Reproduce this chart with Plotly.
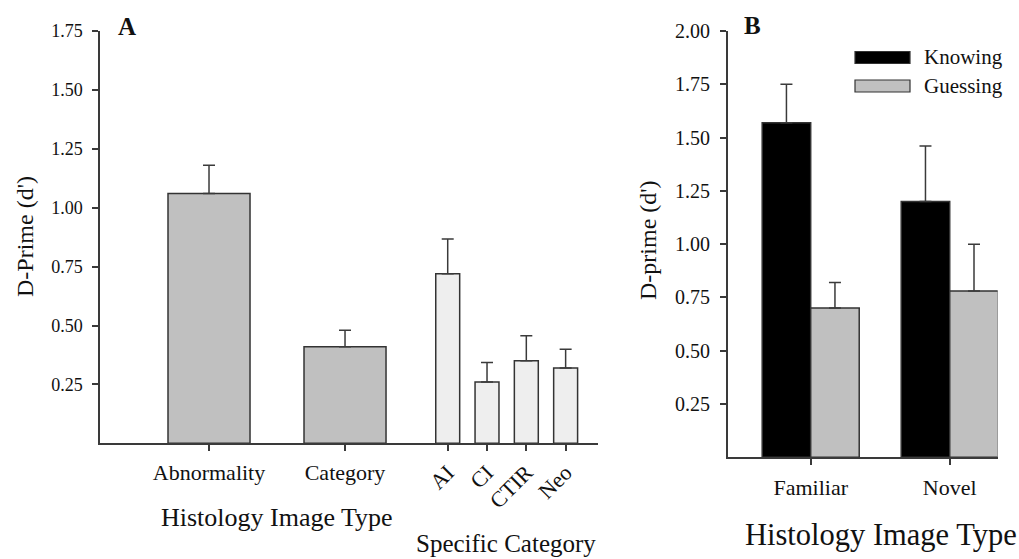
import plotly.graph_objects as go

# ---------------- data ----------------
# Panel A
main_labels = ["Abnormality", "Category"]
main_values = [1.06, 0.41]
main_errors = [0.12, 0.07]

spec_labels = ["AI", "CI", "CTIR", "Neo"]
spec_values = [0.72, 0.26, 0.35, 0.32]
spec_errors = [0.147, 0.083, 0.106, 0.079]

# Panel B
b_categories = ["Familiar", "Novel"]
b_series = ["Knowing", "Guessing"]
knowing_values = [1.57, 1.20]
knowing_errors = [0.18, 0.26]
guessing_values = [0.70, 0.78]
guessing_errors = [0.12, 0.22]

a_yticks = [0.25, 0.50, 0.75, 1.00, 1.25, 1.50, 1.75]
b_yticks = [0.25, 0.50, 0.75, 1.00, 1.25, 1.50, 1.75, 2.00]

# ---------------- style / layout helpers ----------------
W, H = 1019, 559
FONT = "Liberation Serif"
AX = "#3a3a3a"
TXT = "#111111"
EDGE = "#333333"


def px(x):
    return x / W


def py(y):
    return 1 - y / H


# x positions (layout) for panel A
main_x = [1 + i for i in range(len(main_labels))]
spec_x = [2.755 + 0.289 * i for i in range(len(spec_labels))]
b_x = list(range(len(b_categories)))
b_width = 0.349

fig = go.Figure()

err_style = dict(type="data", symmetric=False, color=AX, thickness=1.5, width=6)

fig.add_trace(go.Bar(
    x=main_x, y=main_values, width=0.603,
    marker=dict(color="#c0c0c0", line=dict(color=EDGE, width=1.5)),
    error_y=dict(array=main_errors, arrayminus=[0] * len(main_errors), **err_style),
    xaxis="x", yaxis="y", showlegend=False))

fig.add_trace(go.Bar(
    x=spec_x, y=spec_values, width=0.176,
    marker=dict(color="#eeeeee", line=dict(color=EDGE, width=1.5)),
    error_y=dict(array=spec_errors, arrayminus=[0] * len(spec_errors), **err_style),
    xaxis="x", yaxis="y", showlegend=False))

b_colors = ["#000000", "#c0c0c0"]
b_vals = [knowing_values, guessing_values]
b_errs = [knowing_errors, guessing_errors]
b_offsets = [-b_width, 0]
for name, col, vals, errs, off in zip(b_series, b_colors, b_vals, b_errs, b_offsets):
    fig.add_trace(go.Bar(
        x=b_x, y=vals, width=b_width, offset=off, name=name,
        marker=dict(color=col, line=dict(color=EDGE, width=1.5)),
        error_y=dict(array=errs, arrayminus=[0] * len(errs), **err_style),
        xaxis="x3", yaxis="y3", showlegend=False))

axis_common = dict(showline=True, linecolor=AX, linewidth=1.5, ticks="outside",
                   tickcolor=AX, tickwidth=1.5, ticklen=6, showgrid=False,
                   zeroline=False, automargin=False)

a_xdom = [px(100), px(598)]
a_ydom = [py(443.3), py(31)]
b_xdom = [px(727.7), px(997.7)]
b_ydom = [py(457.3), py(31)]

a_xrange = [0.1985, 3.860]

fig.update_layout(
    width=W, height=H,
    margin=dict(l=0, r=0, t=0, b=0),
    paper_bgcolor="white", plot_bgcolor="white",
    barmode="overlay",
    font=dict(family=FONT, color=TXT),
    showlegend=False,
    xaxis=dict(domain=a_xdom, range=a_xrange, anchor="y",
               tickvals=main_x, ticktext=main_labels,
               tickfont=dict(size=22, family=FONT, color=TXT),
               ticklabelstandoff=3, **axis_common),
    xaxis2=dict(domain=a_xdom, range=a_xrange, anchor="y", overlaying="x",
                side="bottom", tickvals=spec_x, ticktext=spec_labels,
                tickangle=-45, tickfont=dict(size=22, family=FONT, color=TXT),
                ticklabelstandoff=0, **axis_common),
    yaxis=dict(domain=a_ydom, range=[0, 1.75], anchor="x",
               tickvals=a_yticks, tickformat=".2f",
               tickfont=dict(size=18, family=FONT, color=TXT),
               ticklabelstandoff=6, **axis_common),
    xaxis3=dict(domain=b_xdom, range=[-0.597, 1.345], anchor="y3",
                tickvals=b_x, ticktext=b_categories,
                tickfont=dict(size=22, family=FONT, color=TXT),
                ticklabelstandoff=4, **axis_common),
    yaxis3=dict(domain=b_ydom, range=[0, 2.0], anchor="x3",
                tickvals=b_yticks, tickformat=".2f",
                tickfont=dict(size=20, family=FONT, color=TXT),
                ticklabelstandoff=6, **axis_common),
)

# dummy trace so xaxis2 is drawn
fig.add_trace(go.Scatter(x=[spec_x[0]], y=[0], xaxis="x2", yaxis="y",
                         mode="markers", marker=dict(opacity=0),
                         showlegend=False, hoverinfo="skip"))

ann = []


def text(t, x, y, size, bold=False, angle=0, xanchor="center"):
    ann.append(dict(text=f"<b>{t}</b>" if bold else t, x=px(x), y=py(y),
                    xref="paper", yref="paper", showarrow=False,
                    xanchor=xanchor, yanchor="middle", textangle=angle,
                    font=dict(family=FONT, size=size, color=TXT)))


text("A", 127, 27, 25, bold=True)
text("B", 752, 26, 25, bold=True)
text("D-Prime (d')", 25, 237, 24, angle=-90)
text("D-prime (d')", 648, 240, 24, angle=-90)
text("Histology Image Type", 277, 517, 26)
text("Specific Category", 506, 543, 25)
text("Histology Image Type", 881, 535, 30.5)

# legend (panel B)
shapes = []
leg_y = [57.5, 86]
for name, col, yc in zip(b_series, b_colors, leg_y):
    shapes.append(dict(type="rect", xref="paper", yref="paper",
                       x0=px(855), x1=px(910), y0=py(yc - 6), y1=py(yc + 6),
                       fillcolor=col, line=dict(color=EDGE, width=1.2)))
    text(name, 922, yc, 21, xanchor="left")

fig.update_layout(annotations=ann, shapes=shapes)

fig.write_html("out.html",
               config={"displayModeBar": False},
               post_script="document.body.style.margin='0';"
                           "document.body.style.overflow='hidden';")
